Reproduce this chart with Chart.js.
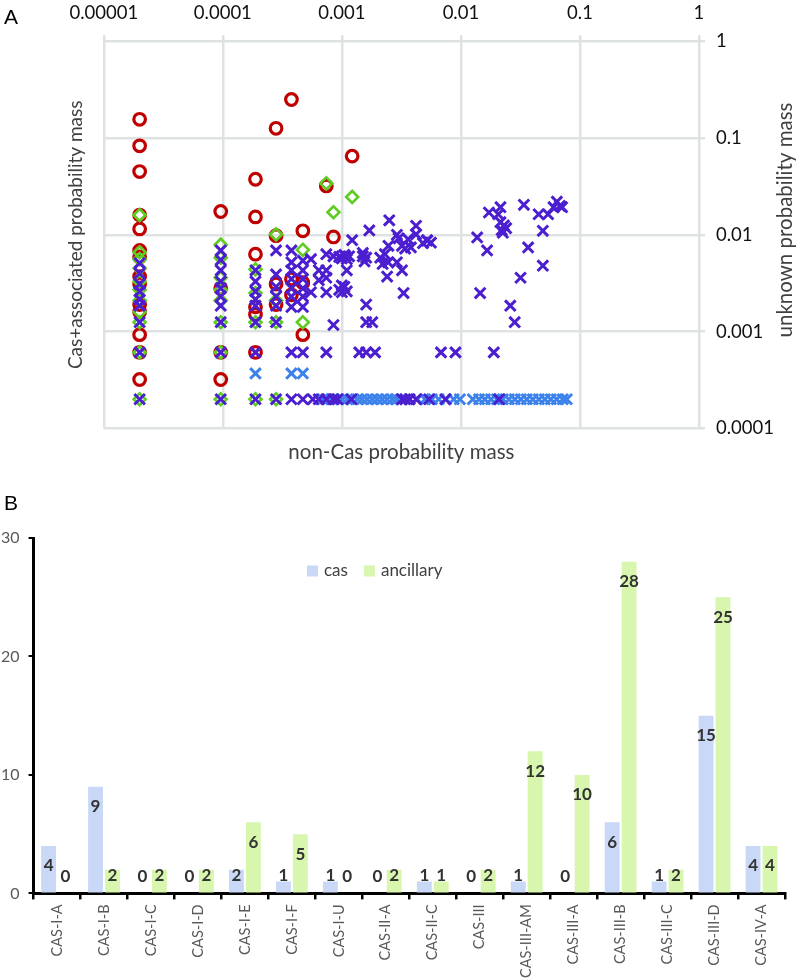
<!DOCTYPE html>
<html>
<head>
<meta charset="utf-8">
<script src="https://cdn.jsdelivr.net/npm/chart.js@4.4.1/dist/chart.umd.min.js"></script>
<style>
  body { margin: 0; background: #fff; width: 800px; height: 980px; position: relative; overflow: hidden; font-family: Lato, sans-serif; }
  .panel { position: absolute; left: 0; }
  .tag { position: absolute; left: 4px; font: 21px "Liberation Sans", Arial, sans-serif; color: #000; }
</style>
</head>
<body>
<div class="panel" style="top:0"><canvas id="chartA" width="800" height="470"></canvas></div>
<div class="panel" style="top:485px"><canvas id="chartB" width="800" height="500"></canvas></div>
<div class="tag" style="top:5px">A</div>
<div class="tag" style="top:491px">B</div>

<script>
// --- painel A: dados (non-Cas, unknown) ---
const xTickValues = [0.00001, 0.0001, 0.001, 0.01, 0.1, 1];
const xTickLabels = ['0.00001', '0.0001', '0.001', '0.01', '0.1', '1'];
const yTickValues = [0.0001, 0.001, 0.01, 0.1, 1];
const yTickLabels = ['0.0001', '0.001', '0.01', '0.1', '1'];

const redCircles = [
  [2e-5, 0.156], [2e-5, 0.083], [2e-5, 0.045], [2e-5, 0.016], [2e-5, 0.0115], [2e-5, 0.0069],
  [2e-5, 0.0059], [2e-5, 0.0037], [2e-5, 0.0031], [2e-5, 0.0019], [2e-5, 0.0016], [2e-5, 0.00093],
  [2e-5, 0.00061], [2e-5, 0.00032],
  [9.6e-5, 0.0174], [9.6e-5, 0.0028], [9.6e-5, 0.00061], [9.6e-5, 0.00032],
  [1.88e-4, 0.0375], [1.88e-4, 0.0153], [1.88e-4, 0.0063], [1.88e-4, 0.0018], [1.88e-4, 0.0015], [1.88e-4, 0.00061],
  [2.8e-4, 0.126], [2.8e-4, 0.0098], [2.8e-4, 0.0031], [2.8e-4, 0.0019],
  [3.77e-4, 0.25], [3.77e-4, 0.0035], [3.77e-4, 0.0024],
  [4.7e-4, 0.011], [4.7e-4, 0.0032], [4.7e-4, 0.00093],
  [7.4e-4, 0.032], [8.5e-4, 0.0095], [1.22e-3, 0.065]
];

const greenDiamonds = [
  [2e-5, 0.016], [2e-5, 0.0066], [2e-5, 0.0056], [2e-5, 0.0045], [2e-5, 0.0033], [2e-5, 0.0027],
  [2e-5, 0.0021], [2e-5, 0.0016], [2e-5, 0.00125], [2e-5, 0.00061], [2e-5, 0.0002],
  [9.6e-5, 0.0079], [9.6e-5, 0.0058], [9.6e-5, 0.0036], [9.6e-5, 0.0027], [9.6e-5, 0.0021],
  [9.6e-5, 0.00125], [9.6e-5, 0.00061], [9.6e-5, 0.0002],
  [1.88e-4, 0.0044], [1.88e-4, 0.0025], [1.88e-4, 0.00125], [1.88e-4, 0.0002],
  [2.8e-4, 0.0101], [2.8e-4, 0.0021], [2.8e-4, 0.00125], [2.8e-4, 0.0002],
  [4.7e-4, 0.007], [4.7e-4, 0.00125],
  [7.4e-4, 0.034], [8.5e-4, 0.0171], [1.22e-3, 0.0246]
];

const purpleCrosses = [
  [2e-5, 0.0051], [2e-5, 0.004], [2e-5, 0.0031], [2e-5, 0.0026], [2e-5, 0.00215], [2e-5, 0.00185],
  [2e-5, 0.00125], [2e-5, 0.00061], [2e-5, 0.0002],
  [9.6e-5, 0.0069], [9.6e-5, 0.0055], [9.6e-5, 0.0043], [9.6e-5, 0.0033], [9.6e-5, 0.0028], [9.6e-5, 0.0023],
  [9.6e-5, 0.00185], [9.6e-5, 0.00125], [9.6e-5, 0.00061], [9.6e-5, 0.0002],
  [1.88e-4, 0.0043], [1.88e-4, 0.0033], [1.88e-4, 0.0026], [1.88e-4, 0.00215], [1.88e-4, 0.00185],
  [1.88e-4, 0.00125], [1.88e-4, 0.00061], [1.88e-4, 0.0002],
  [2.8e-4, 0.0069], [2.8e-4, 0.0039], [2.8e-4, 0.0029], [2.8e-4, 0.0023], [2.8e-4, 0.00185],
  [2.8e-4, 0.00125], [2.8e-4, 0.0002],
  [3.77e-4, 0.0069], [3.77e-4, 0.0052], [3.77e-4, 0.0043], [3.77e-4, 0.0035], [3.77e-4, 0.0028],
  [3.77e-4, 0.0023], [3.77e-4, 0.0018], [3.77e-4, 0.00061], [3.77e-4, 0.0002],
  [4.7e-4, 0.0054], [4.7e-4, 0.0043], [4.7e-4, 0.0035], [4.7e-4, 0.0028], [4.7e-4, 0.0023],
  [4.7e-4, 0.0018], [4.7e-4, 0.00061], [4.7e-4, 0.0002],
  [5.5e-4, 0.0056], [5.5e-4, 0.00255], [5.7e-4, 0.0002],
  [6.4e-4, 0.0043], [6.4e-4, 0.0034], [6.4e-4, 0.0002],
  [7.4e-4, 0.0063], [7.4e-4, 0.0043], [7.4e-4, 0.0036], [7.4e-4, 0.00255], [7.4e-4, 0.00061], [7.4e-4, 0.0002],
  [8.5e-4, 0.006], [8.5e-4, 0.00117], [8.5e-4, 0.0002], [9.2e-4, 0.0002],
  [9.5e-4, 0.0059], [1.0e-3, 0.0057], [1.05e-3, 0.0062], [1.1e-3, 0.0056], [1.15e-3, 0.006], [1.07e-3, 0.006],
  [1.1e-3, 0.0043], [1.0e-3, 0.003], [1.0e-3, 0.00255], [9.5e-4, 0.0027], [1.05e-3, 0.0029], [1.1e-3, 0.0026],
  [1.22e-3, 0.0088], [1.7e-3, 0.0111], [2.5e-3, 0.0141], [2.9e-3, 0.01], [4.2e-3, 0.0124], [5.2e-3, 0.0087],
  [1.5e-3, 0.006], [1.55e-3, 0.0053], [1.5e-3, 0.0065], [1.6e-3, 0.0058],
  [2.1e-3, 0.0058], [2.3e-3, 0.0063], [2.2e-3, 0.005], [2.45e-3, 0.0052], [2.9e-3, 0.0052],
  [2.46e-3, 0.0077], [3.0e-3, 0.0092], [3.2e-3, 0.0077], [3.4e-3, 0.0072], [3.6e-3, 0.009], [3.8e-3, 0.0074],
  [4.2e-3, 0.0101], [4.8e-3, 0.0082], [5.6e-3, 0.0083], [5.2e-3, 0.0088],
  [2.4e-3, 0.0037], [3.2e-3, 0.0043], [3.3e-3, 0.0025],
  [1.6e-3, 0.0019], [1.6e-3, 0.00125], [1.8e-3, 0.00125],
  [1.4e-3, 0.00061], [1.6e-3, 0.00061], [1.9e-3, 0.00061], [6.8e-3, 0.00061], [9e-3, 0.00061], [0.0189, 0.00061],
  [1.2e-3, 0.0002], [3.2e-3, 0.0002], [3.4e-3, 0.0002], [3.7e-3, 0.0002], [4.2e-3, 0.0002], [5.4e-3, 0.0002],
  [7.4e-3, 0.0002], [0.0209, 0.0002],
  [0.0137, 0.0094], [0.0166, 0.0069], [0.0145, 0.0025], [0.0172, 0.017], [0.0206, 0.0163], [0.0215, 0.0193],
  [0.0215, 0.0135], [0.023, 0.0125], [0.022, 0.0112], [0.024, 0.0117], [0.0225, 0.0105], [0.0338, 0.0204],
  [0.0367, 0.0074], [0.045, 0.0163], [0.054, 0.0163], [0.0488, 0.011], [0.0488, 0.0048], [0.06, 0.0193],
  [0.064, 0.022], [0.068, 0.0199], [0.0708, 0.0193], [0.0317, 0.0036], [0.026, 0.00185], [0.0283, 0.00125]
];

const blueCrosses = [
  [1.88e-4, 0.00037], [3.77e-4, 0.00037], [4.7e-4, 0.00037],
  [6.9e-4, 0.0002], [7.6e-4, 0.0002], [8.3e-4, 0.0002], [9.2e-4, 0.0002], [1.01e-3, 0.0002], [1.11e-3, 0.0002],
  [1.22e-3, 0.0002], [1.35e-3, 0.0002], [1.48e-3, 0.0002], [1.63e-3, 0.0002], [1.8e-3, 0.0002], [1.98e-3, 0.0002],
  [2.18e-3, 0.0002], [2.4e-3, 0.0002], [2.65e-3, 0.0002], [2.9e-3, 0.0002], [3.2e-3, 0.0002], [3.7e-3, 0.0002],
  [4.3e-3, 0.0002], [5.0e-3, 0.0002], [5.7e-3, 0.0002], [6.5e-3, 0.0002], [7.5e-3, 0.0002], [8.7e-3, 0.0002],
  [9.8e-3, 0.0002], [0.0126, 0.0002], [0.0142, 0.0002], [0.0159, 0.0002], [0.0179, 0.0002], [0.0201, 0.0002],
  [0.0225, 0.0002], [0.0253, 0.0002], [0.0284, 0.0002], [0.0319, 0.0002], [0.0358, 0.0002], [0.0402, 0.0002],
  [0.0452, 0.0002], [0.0507, 0.0002], [0.0569, 0.0002], [0.0638, 0.0002], [0.0717, 0.0002], [0.0775, 0.0002]
];

// --- painel B: dados ---
const casTypes = ['CAS-I-A', 'CAS-I-B', 'CAS-I-C', 'CAS-I-D', 'CAS-I-E', 'CAS-I-F', 'CAS-I-U', 'CAS-II-A',
  'CAS-II-C', 'CAS-III', 'CAS-III-AM', 'CAS-III-A', 'CAS-III-B', 'CAS-III-C', 'CAS-III-D', 'CAS-IV-A'];
const casCounts = [4, 9, 0, 0, 2, 1, 1, 0, 1, 0, 1, 0, 6, 1, 15, 4];
const ancillaryCounts = [0, 2, 2, 2, 6, 5, 0, 2, 1, 2, 12, 10, 28, 2, 25, 4];

const FONT = 'Lato, "Open Sans", sans-serif';
const toPoints = (arr) => arr.map(p => ({ x: p[0], y: p[1] }));

// titulo do eixo direito (lido de baixo para cima)
const rightTitle = {
  id: 'rightTitle',
  afterDraw(chart) {
    const ctx = chart.ctx;
    ctx.save();
    ctx.translate(785, 220);
    ctx.rotate(-Math.PI / 2);
    ctx.font = '20.5px ' + FONT;
    ctx.fillStyle = '#404040';
    ctx.textAlign = 'center';
    ctx.textBaseline = 'middle';
    ctx.fillText('unknown probability mass', 0, 0);
    ctx.restore();
  }
};

const gridA = { color: '#dfe2e2', lineWidth: 2.5, tickLength: 6 };

new Chart(document.getElementById('chartA'), {
  type: 'scatter',
  data: {
    datasets: [
      { label: 'purple', data: toPoints(purpleCrosses), xAxisID: 'x', yAxisID: 'y', pointStyle: 'crossRot',
        pointRadius: 7.5, pointBorderWidth: 3, borderColor: '#4b1fd0', backgroundColor: '#4b1fd0' },
      { label: 'blue', data: toPoints(blueCrosses), xAxisID: 'x', yAxisID: 'y', pointStyle: 'crossRot',
        pointRadius: 7.5, pointBorderWidth: 3, borderColor: '#3d82ea', backgroundColor: '#3d82ea' },
      { label: 'green', data: toPoints(greenDiamonds), xAxisID: 'x', yAxisID: 'y', pointStyle: 'rectRot',
        pointRadius: 6, pointBorderWidth: 2.6, borderColor: '#5fcc22', backgroundColor: 'rgba(0,0,0,0)' },
      { label: 'red', data: toPoints(redCircles), xAxisID: 'x', yAxisID: 'y', pointStyle: 'circle',
        pointRadius: 5.8, pointBorderWidth: 3.2, borderColor: '#c00000', backgroundColor: 'rgba(0,0,0,0)' }
    ]
  },
  options: {
    responsive: false,
    animation: false,
    layout: { padding: { left: 64, top: -9, right: 15, bottom: 5 } },
    plugins: { legend: { display: false }, tooltip: { enabled: false } },
    scales: {
      x: {
        type: 'logarithmic', position: 'top', min: 1e-5, max: 1,
        afterBuildTicks: (axis) => { axis.ticks = xTickValues.map(v => ({ value: v })); },
        ticks: { callback: (v, i) => xTickLabels[i], font: { size: 18.5, family: FONT }, color: '#111',
                 padding: 11, maxRotation: 0, autoSkip: false },
        grid: gridA,
        border: { display: false }
      },
      xb: {
        type: 'linear', axis: 'x', position: 'bottom',
        ticks: { display: false }, grid: { display: false, drawTicks: false }, border: { display: false },
        title: { display: true, text: 'non-Cas probability mass', font: { size: 20.5, family: FONT }, color: '#404040',
                 padding: { top: 12, bottom: 0 } }
      },
      y: {
        type: 'logarithmic', position: 'right', min: 1e-4, max: 1,
        afterBuildTicks: (axis) => { axis.ticks = yTickValues.map(v => ({ value: v })); },
        ticks: { callback: (v, i) => yTickLabels[i], font: { size: 18.5, family: FONT }, color: '#111',
                 padding: 11, autoSkip: false },
        grid: gridA,
        border: { display: false }
      },
      yl: {
        type: 'linear', axis: 'y', position: 'left',
        ticks: { display: false }, grid: { display: false, drawTicks: false }, border: { display: false },
        title: { display: true, text: 'Cas+associated probability mass', font: { size: 19, family: FONT }, color: '#404040',
                 padding: { top: 0, bottom: 17 } }
      }
    }
  },
  plugins: [rightTitle]
});

// rotulos de valor dentro das barras
const barLabels = {
  id: 'barLabels',
  afterDatasetsDraw(chart) {
    const ctx = chart.ctx;
    ctx.save();
    ctx.font = 'bold 17px ' + FONT;
    ctx.fillStyle = '#333';
    ctx.textAlign = 'center';
    ctx.textBaseline = 'middle';
    chart.data.datasets.forEach((ds, i) => {
      chart.getDatasetMeta(i).data.forEach((bar, j) => {
        const y = Math.min(bar.y + 20, bar.base - 17);
        ctx.fillText(ds.data[j], bar.x, y);
      });
    });
    ctx.restore();
  }
};

// legenda dentro da area do grafico
const barLegend = {
  id: 'barLegend',
  afterDraw(chart) {
    const ctx = chart.ctx;
    const y = chart.chartArea.top + 33;
    let x = 307;
    ctx.save();
    ctx.font = '17px ' + FONT;
    ctx.textBaseline = 'middle';
    chart.data.datasets.forEach(ds => {
      ctx.fillStyle = ds.backgroundColor;
      ctx.fillRect(x, y - 5.5, 11, 11);
      ctx.fillStyle = '#404040';
      ctx.fillText(ds.label, x + 17, y);
      x += 17 + ctx.measureText(ds.label).width + 16;
    });
    ctx.restore();
  }
};

new Chart(document.getElementById('chartB'), {
  type: 'bar',
  data: {
    labels: casTypes,
    datasets: [
      { label: 'cas', data: casCounts, backgroundColor: '#c9d8f7', categoryPercentage: 0.72, barPercentage: 0.88 },
      { label: 'ancillary', data: ancillaryCounts, backgroundColor: '#d8f6ad', categoryPercentage: 0.72, barPercentage: 0.88 }
    ]
  },
  options: {
    responsive: false,
    animation: false,
    layout: { padding: { left: -8, top: 53, right: 15, bottom: 2 } },
    plugins: { legend: { display: false }, tooltip: { enabled: false } },
    scales: {
      x: {
        ticks: { font: { size: 14.5, family: FONT }, color: '#595959', minRotation: 90, maxRotation: 90,
                 autoSkip: false, padding: 5 },
        grid: { drawOnChartArea: false, tickLength: 6, color: '#000', lineWidth: 2.5, offset: true },
        border: { color: '#000', width: 3 }
      },
      y: {
        min: 0, max: 30,
        ticks: { stepSize: 10, font: { size: 16, family: FONT }, color: '#595959', padding: 9 },
        grid: { drawOnChartArea: false, tickLength: 5, color: '#000', lineWidth: 2 },
        border: { color: '#000', width: 3 }
      }
    }
  },
  plugins: [barLabels, barLegend]
});
</script>
</body>
</html>
